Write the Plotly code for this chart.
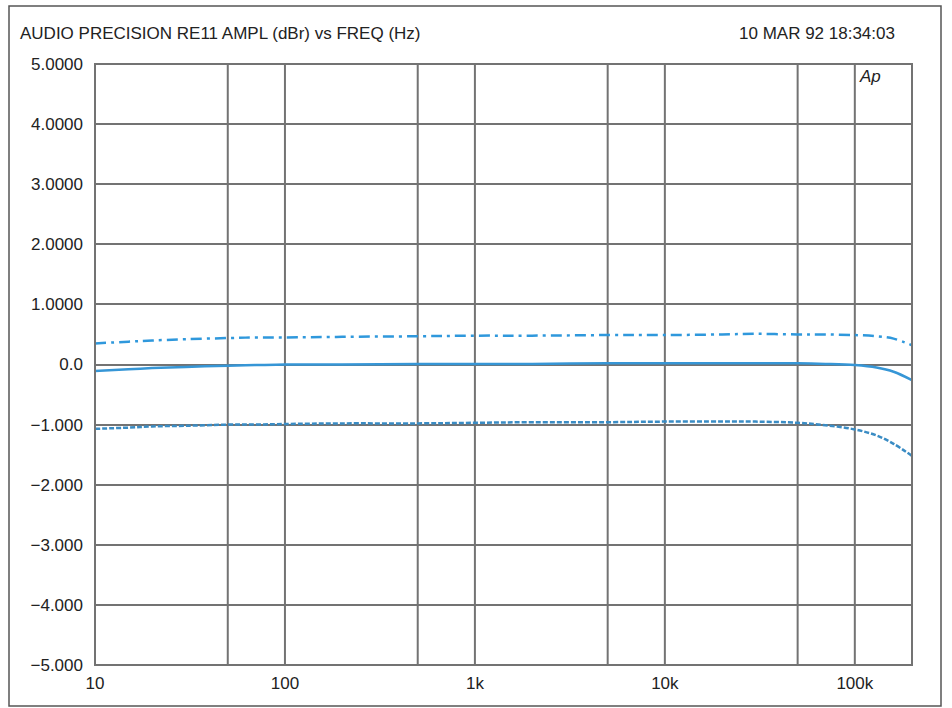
import plotly.graph_objects as go

freq_hz = [10, 15, 20, 30, 50, 70, 100, 200, 500, 1000, 2000, 5000, 10000,
           20000, 30000, 50000, 70000, 100000, 130000, 160000, 200000]
upper_dbr = [0.35, 0.38, 0.40, 0.42, 0.44, 0.45, 0.45, 0.46, 0.47, 0.48, 0.48,
             0.49, 0.49, 0.50, 0.51, 0.50, 0.50, 0.49, 0.47, 0.43, 0.32]
middle_dbr = [-0.11, -0.08, -0.06, -0.04, -0.02, -0.01, 0.0, 0.0, 0.01, 0.01, 0.01,
              0.02, 0.02, 0.02, 0.02, 0.02, 0.01, -0.01, -0.05, -0.12, -0.26]
lower_dbr = [-1.07, -1.05, -1.03, -1.02, -1.0, -1.0, -0.99, -0.98, -0.98, -0.97, -0.96,
             -0.96, -0.95, -0.95, -0.95, -0.97, -1.01, -1.08, -1.18, -1.32, -1.52]

grid_freqs = [50, 100, 500, 1000, 5000, 10000, 50000, 100000]
x_tick_vals = [10, 100, 1000, 10000, 100000]
x_tick_text = ["10", "100", "1k", "10k", "100k"]
y_tick_vals = [5, 4, 3, 2, 1, 0, -1, -2, -3, -4, -5]
y_tick_text = ["5.0000", "4.0000", "3.0000", "2.0000", "1.0000", "0.0",
               "\u22121.000", "\u22122.000", "\u22123.000", "\u22124.000", "\u22125.000"]

title_text = "AUDIO PRECISION RE11 AMPL (dBr) vs FREQ (Hz)"
date_text = "10 MAR 92 18:34:03"

FONT = "Liberation Sans, Arial, sans-serif"
GRID = "#737373"
TXT = "#222222"

fig = go.Figure()
fig.add_trace(go.Scatter(x=freq_hz, y=upper_dbr, mode="lines", line_shape="spline",
                         line=dict(color="#2f98dc", width=2.5, dash="11px,5px,3px,5px")))
fig.add_trace(go.Scatter(x=freq_hz, y=middle_dbr, mode="lines", line_shape="spline",
                         line=dict(color="#3696d6", width=2.5)))
fig.add_trace(go.Scatter(x=freq_hz, y=lower_dbr, mode="lines", line_shape="spline",
                         line=dict(color="#3a8cc4", width=2.5, dash="5px,2px")))

shapes = []
for f in grid_freqs:
    shapes.append(dict(type="line", xref="x", yref="paper", x0=f, x1=f, y0=0, y1=1,
                       line=dict(color=GRID, width=2), layer="below"))
shapes.append(dict(type="rect", xref="paper", yref="paper", x0=0, x1=1, y0=0, y1=1,
                   line=dict(color=GRID, width=2)))
shapes.append(dict(type="rect", xref="paper", yref="paper",
                   x0=(9 - 95) / 817, x1=(941 - 95) / 817,
                   y0=(665 - 706) / 601, y1=(665 - 6) / 601,
                   line=dict(color="#555555", width=1.5)))

annotations = [
    dict(text=title_text, xref="paper", yref="paper", x=(18 - 95) / 817, y=(665 - 33) / 601,
         xanchor="left", yanchor="middle", showarrow=False,
         font=dict(family=FONT, size=17, color=TXT)),
    dict(text=date_text, xref="paper", yref="paper", x=(897 - 95) / 817, y=(665 - 33) / 601,
         xanchor="right", yanchor="middle", showarrow=False,
         font=dict(family=FONT, size=17, color=TXT)),
    dict(text="<i>Ap</i>", xref="paper", yref="paper", x=(857 - 95) / 817, y=(665 - 77) / 601,
         xanchor="left", yanchor="middle", showarrow=False,
         font=dict(family=FONT, size=17, color=TXT)),
]

fig.update_layout(
    width=952, height=708,
    margin=dict(l=95, r=40, t=64, b=43),
    paper_bgcolor="white", plot_bgcolor="white",
    showlegend=False,
    shapes=shapes, annotations=annotations,
    font=dict(family=FONT, size=17, color=TXT),
)
fig.update_xaxes(type="log", range=[1, 5.30103], tickvals=x_tick_vals, ticktext=x_tick_text,
                 showgrid=False, zeroline=False, showline=False, ticks="", ticklabelstandoff=6,
                 tickfont=dict(family=FONT, size=17, color=TXT))
fig.update_yaxes(range=[-5, 5], tickvals=y_tick_vals, ticktext=y_tick_text,
                 showgrid=True, gridcolor=GRID, gridwidth=2, zeroline=False, showline=False,
                 ticks="", ticklabelstandoff=11,
                 tickfont=dict(family=FONT, size=17, color=TXT))

fig.write_html("out.html", config={"displayModeBar": False},
               post_script="document.body.style.margin='0';")
